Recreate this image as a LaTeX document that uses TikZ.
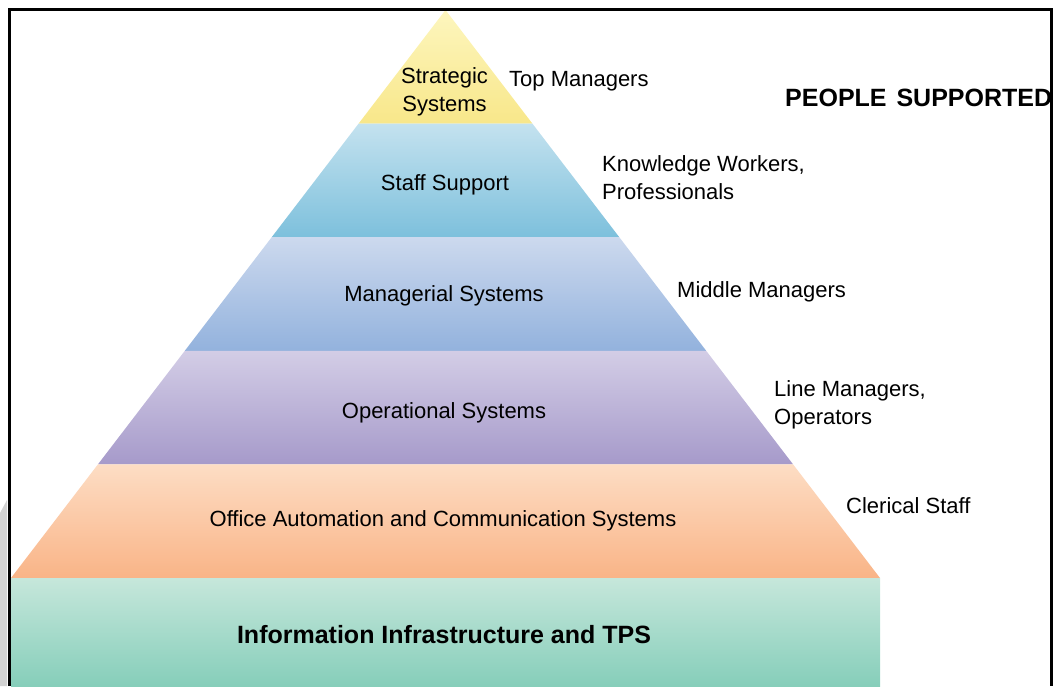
\documentclass[tikz,border=0pt]{standalone}
\usepackage{fontspec}
\setmainfont{Liberation Sans}
\usetikzlibrary{calc}

\definecolor{yelTop}{HTML}{FDF6BE}
\definecolor{yelBot}{HTML}{F8E78A}
\definecolor{blueTop}{HTML}{C4E2EF}
\definecolor{blueBot}{HTML}{7DC0DC}
\definecolor{periTop}{HTML}{CCD9EE}
\definecolor{periBot}{HTML}{93B2DD}
\definecolor{lilacTop}{HTML}{D3CDE6}
\definecolor{lilacBot}{HTML}{A69ACA}
\definecolor{peachTop}{HTML}{FDDDC4}
\definecolor{peachBot}{HTML}{F9B487}
\definecolor{mintTop}{HTML}{C6E7DB}
\definecolor{mintBot}{HTML}{86CEBA}
\definecolor{shadowgray}{HTML}{D2D2D2}

\tikzset{
  layertext/.style={inner sep=0pt, anchor=base, font=\fontsize{22}{28}\selectfont, align=center},
  peopletext/.style={inner sep=0pt, anchor=base west, font=\fontsize{22}{28}\selectfont, align=left},
  basetext/.style={inner sep=0pt, anchor=base, font=\fontsize{25}{30}\selectfont\bfseries},
  headtext/.style={inner sep=0pt, anchor=base west, font=\fontsize{25}{30}\selectfont\bfseries},
  frameline/.style={line width=3pt, line cap=butt, line join=miter},
}

\begin{document}
\begin{tikzpicture}[x=1pt, y=-1pt]
  \useasboundingbox (0,0) rectangle (1053,686);

  % grey sliver at the lower left edge
  \fill[shadowgray] (0,513) -- (7,500) -- (7,686) -- (0,686) -- cycle;

  % pyramid corners
  \coordinate (apex) at (445.5,10);
  \coordinate (bl) at (11,578);
  \coordinate (br) at (880,578);
  \foreach \k/\t in {1/0.2,2/0.4,3/0.6,4/0.8}{
    \coordinate (l\k) at ($(apex)!\t!(bl)$);
    \coordinate (r\k) at ($(apex)!\t!(br)$);
  }

  % pyramid layers, top to bottom
  \shade[top color=yelTop, bottom color=yelBot] (apex) -- (r1) -- (l1) -- cycle;
  \shade[top color=blueTop, bottom color=blueBot] (l1) -- (r1) -- (r2) -- (l2) -- cycle;
  \shade[top color=periTop, bottom color=periBot] (l2) -- (r2) -- (r3) -- (l3) -- cycle;
  \shade[top color=lilacTop, bottom color=lilacBot] (l3) -- (r3) -- (r4) -- (l4) -- cycle;
  \shade[top color=peachTop, bottom color=peachBot] (l4) -- (r4) -- (br) -- (bl) -- cycle;

  % foundation block
  \shade[top color=mintTop, bottom color=mintBot] (11,578) rectangle (880,686);

  % frame
  \draw[frameline] (9,686) -- (9,9) -- (1051,9) -- (1051,686);

  % layer labels (multi-line nodes sit on the baseline of their last line)
  \node[layertext] (strategic) at (444.5,111) {Strategic\\Systems};
  \node[layertext] (staff) at (445,190) {Staff Support};
  \node[layertext] (managerial) at (444,301) {Managerial Systems};
  \node[layertext] (operational) at (444,418) {Operational Systems};
  \node[layertext] (office) at (443,526) {Office Automation and Communication Systems};
  \node[basetext] (infra) at (444,643) {Information Infrastructure and TPS};

  % people supported
  \node[headtext] (head) at (785,106) {PEOPLE\hspace{3pt} SUPPORTED};
  \node[peopletext] (top) at (509,86) {Top Managers};
  \node[peopletext] (knowledge) at (602,199) {Knowledge Workers,\\Professionals};
  \node[peopletext] (middle) at (677,297) {Middle Managers};
  \node[peopletext] (line) at (774,424) {Line Managers,\\Operators};
  \node[peopletext] (clerical) at (846,513) {Clerical Staff};
\end{tikzpicture}
\end{document}
